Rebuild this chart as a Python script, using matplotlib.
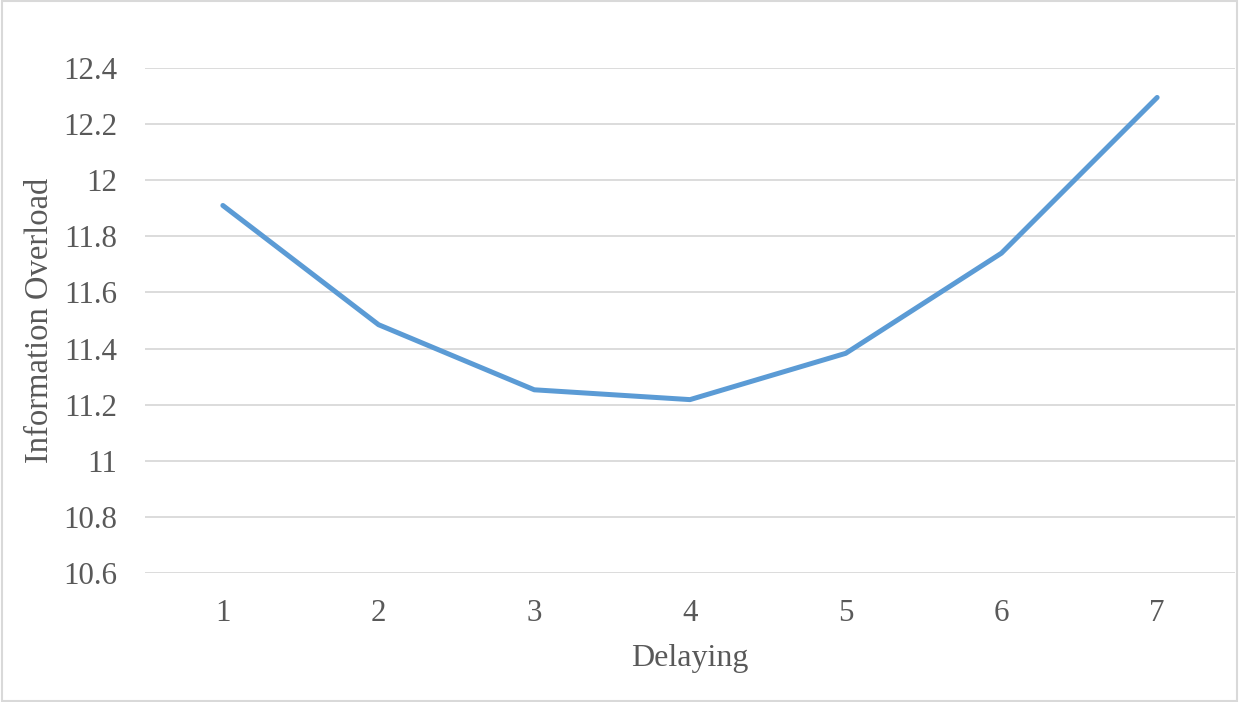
import matplotlib.pyplot as plt
from matplotlib.patches import Rectangle

delaying = [1, 2, 3, 4, 5, 6, 7]
overload = [11.91, 11.485, 11.253, 11.218, 11.383, 11.74, 12.295]
y_ticks = [10.6, 10.8, 11.0, 11.2, 11.4, 11.6, 11.8, 12.0, 12.2, 12.4]
y_tick_labels = ['10.6', '10.8', '11', '11.2', '11.4', '11.6', '11.8', '12', '12.2', '12.4']

plt.rcParams['font.family'] = ['Liberation Serif', 'DejaVu Serif']

fig = plt.figure(figsize=(12.39, 7.02), dpi=100)
ax = fig.add_axes([145 / 1239, 1 - 573 / 702, (1235 - 145) / 1239, (573 - 68) / 702])

ax.plot(delaying, overload, color='#5B9BD5', linewidth=3.6, solid_capstyle='round',
        solid_joinstyle='round', zorder=3)

ax.set_xlim(0.5, 7.5)
ax.set_ylim(10.6, 12.4)
ax.set_xticks(delaying)
ax.set_yticks(y_ticks)
ax.set_yticklabels(y_tick_labels)
ax.grid(axis='y', color='#D9D9D9', linewidth=1.3)
ax.set_axisbelow(True)
for s in ax.spines.values():
    s.set_visible(False)
ax.tick_params(length=0, labelsize=22.3, labelcolor='#595959')
ax.tick_params(axis='y', pad=20)
ax.tick_params(axis='x', pad=19)

ax.set_xlabel('Delaying', fontsize=23, color='#595959', labelpad=11)
ax.set_ylabel('Information Overload', fontsize=23.5, color='#595959', labelpad=6)

# light frame around the whole chart
fig.patches.append(Rectangle((0.002, 0.002), 0.996, 0.996, transform=fig.transFigure,
                             fill=False, edgecolor='#D9D9D9', linewidth=1.5))

fig.savefig('out.png', dpi=100)
